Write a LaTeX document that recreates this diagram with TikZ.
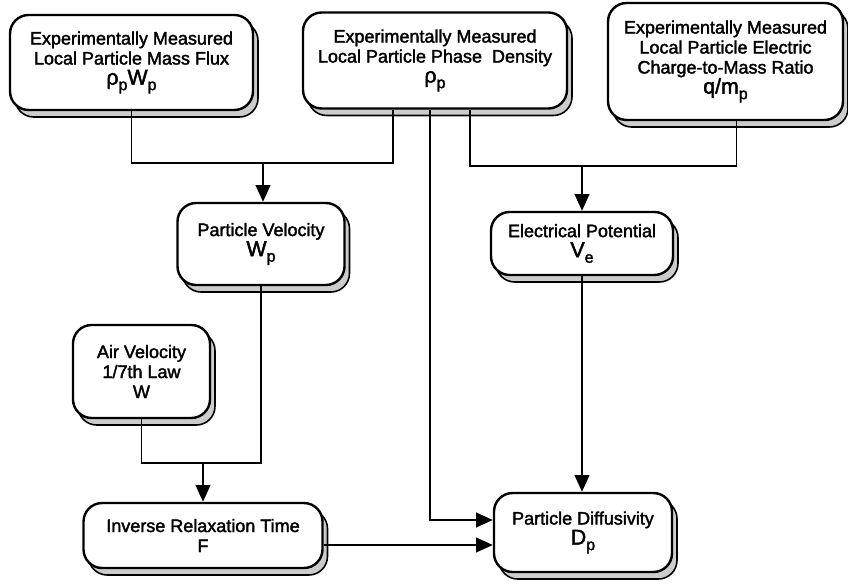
\documentclass[tikz,border=0pt]{standalone}
\usepackage{fontspec}
\setmainfont{Liberation Sans}[RawFeature={embolden=2}]
\usetikzlibrary{arrows.meta,shadows}
\newcommand{\fml}[1]{\fontsize{16}{22}\selectfont #1}
\newcommand{\sbs}[1]{\raisebox{-0.5ex}{\fontsize{12}{12}\selectfont #1}}
\begin{document}
\begin{tikzpicture}[x=0.75pt,y=-0.75pt,
  box/.style={draw=black, line width=1.8pt, fill=white, rounded corners=14pt,
    align=center, inner sep=0pt,
    font=\fontsize{13.5}{15}\selectfont,
    general shadow={shadow xshift=3.75pt, shadow yshift=-5.25pt,
      fill=gray!40, draw=black, line width=1.2pt}},
  sz/.style 2 args={minimum width=#1*0.75pt, minimum height=#2*0.75pt},
  conn/.style={line width=1.3pt},
  arr/.style={conn, -{Triangle[length=12.5pt,width=11pt]}}]
\useasboundingbox (0,0) rectangle (848,584);

\node[box, sz={243}{95}] (A) at (131.5,62.5)
  {Experimentally Measured\\Local Particle Mass Flux\\\fml{ρ\sbs{p}W\sbs{p}}};
\node[box, sz={264}{96}] (B) at (435,60.5)
  {Experimentally Measured\\Local Particle Phase\ \ Density\\\fml{ρ\sbs{p}}};
\node[box, sz={235}{117}] (C) at (725.5,61.5)
  {Experimentally Measured\\Local Particle Electric\\Charge-to-Mass Ratio\\\fml{q/m\sbs{p}}};
\node[box, sz={167}{82}] (PV) at (261,244)
  {Particle Velocity\\\fml{W\sbs{p}}};
\node[box, sz={182}{63}] (EP) at (582,243.5)
  {Electrical Potential\\\fml{V\sbs{e}}};
\node[box, sz={137}{93}] (AV) at (141.5,371.5)
  {Air Velocity\\1/7th Law\\W};
\node[box, sz={239}{65}] (IRT) at (203,535.5)
  {Inverse Relaxation Time\\F};
\node[box, sz={178}{79}] (PD) at (583,532.5)
  {Particle Diffusivity\\\fml{D\sbs{p}}};

\coordinate (j1) at (263,163);
\coordinate (j2) at (582,166);
\coordinate (j3) at (203,463);
\coordinate (m) at (430,520);
\coordinate (k) at (430,545);

% to particle velocity
\draw[conn] (A.south) |- (j1) -| ([xshift=-31.5pt]B.south);
\draw[arr] (j1) -- (j1 |- PV.north);
% to electrical potential
\draw[conn] ([xshift=26.25pt]B.south) |- (j2) -| ([xshift=8.25pt]C.south);
\draw[arr] (j2) -- (j2 |- EP.north);
% density to diffusivity
\draw[arr] ([xshift=-3.75pt]B.south) |- (PD.west |- m);
% to inverse relaxation time
\draw[conn] (AV.south) |- (j3) -| (PV.south);
\draw[arr] (j3) -- (IRT.north);
% potential to diffusivity
\draw[arr] (EP.south) -- (EP.south |- PD.north);
% relaxation time to diffusivity
\draw[arr] (IRT.east |- k) -- (PD.west |- k);
\end{tikzpicture}
\end{document}
